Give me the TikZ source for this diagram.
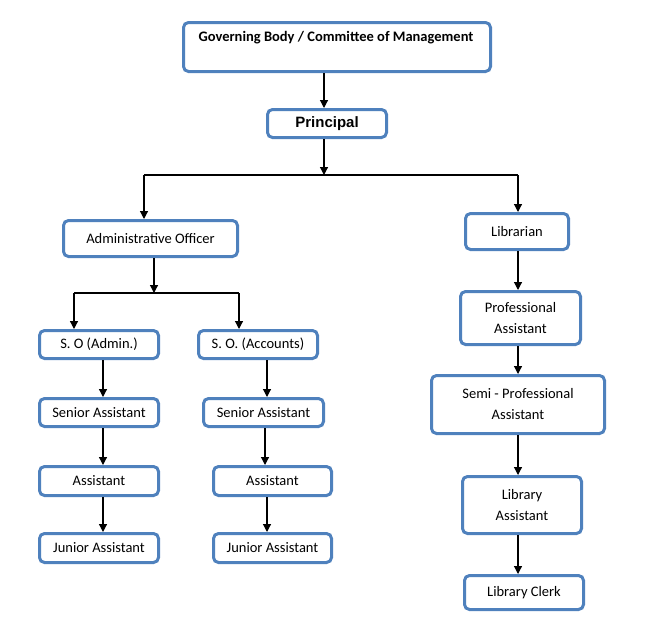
\documentclass[tikz,border=0pt]{standalone}
\usepackage{fontspec}
\setmainfont{Carlito}
\newfontfamily\arialfont{Liberation Sans}
\usetikzlibrary{arrows.meta}
\definecolor{boxblue}{HTML}{4F81BD}
\tikzset{
  orgbox/.style={draw=boxblue, line width=3pt, rounded corners=5pt, fill=white,
    inner sep=0pt, align=center, font=\fontsize{14.5pt}{21pt}\selectfont},
  conn/.style={draw=black, line width=1.2pt},
  arr/.style={conn, -{Triangle[length=8pt,width=8pt]}},
}
\begin{document}
\begin{tikzpicture}[x=1pt,y=-1pt]
\useasboundingbox (0,0) rectangle (652,621);
% boxes
\node[orgbox, minimum width=307pt, minimum height=49pt] (gb) at (337,47) {};
\node[font=\bfseries\fontsize{14.5pt}{17pt}\selectfont] (gbt) at (336,38) {Governing Body / Committee of Management};
\node[orgbox, minimum width=119pt, minimum height=28pt, font=\arialfont\bfseries\fontsize{15pt}{18pt}\selectfont] (pr) at (327,123.5) {Principal};
\node[orgbox, minimum width=174pt, minimum height=36pt] (ao) at (150.5,238.5) {Administrative Officer};
\node[orgbox, minimum width=103pt, minimum height=36pt] (lib) at (517,231.5) {Librarian};
\node[orgbox, minimum width=119pt, minimum height=28pt] (soa) at (99,344.5) {S. O (Admin.)};
\node[orgbox, minimum width=119pt, minimum height=28pt] (soc) at (258,344.5) {S. O. (Accounts)};
\node[orgbox, minimum width=119pt, minimum height=28pt] (sa1) at (99,412.5) {Senior Assistant};
\node[orgbox, minimum width=120pt, minimum height=28pt] (sa2) at (263.5,412.5) {Senior Assistant};
\node[orgbox, minimum width=119pt, minimum height=29pt] (as1) at (99,481) {Assistant};
\node[orgbox, minimum width=118pt, minimum height=29pt] (as2) at (272.5,481) {Assistant};
\node[orgbox, minimum width=119pt, minimum height=29pt] (ja1) at (99,548) {Junior Assistant};
\node[orgbox, minimum width=118pt, minimum height=29pt] (ja2) at (272.5,548) {Junior Assistant};
\node[orgbox, minimum width=120pt, minimum height=53pt] (pa) at (520.5,318) {Professional\\Assistant};
\node[orgbox, minimum width=173pt, minimum height=58pt] (spa) at (518,404.5) {Semi - Professional\\Assistant};
\node[orgbox, minimum width=119pt, minimum height=57pt] (la) at (522,505) {Library\\Assistant};
\node[orgbox, minimum width=119pt, minimum height=34pt] (lc) at (524,592.5) {Library Clerk};
% junctions and spines
\coordinate (j1) at (324,175);
\coordinate (jl) at (144,175);
\coordinate (jr) at (518,175);
\coordinate (j2) at (154,293);
\coordinate (j2l) at (74,293);
\coordinate (j2r) at (239,293);
\coordinate (xl) at (103,0);
\coordinate (xr1) at (267,0);
\coordinate (xr2) at (265,0);
\coordinate (xb) at (518,0);
% connectors
\draw[arr] (gb.south -| j1) -- (pr.north -| j1);
\draw[arr] (pr.south -| j1) -- (j1);
\draw[conn] (jl) -- (jr);
\draw[arr] (jl) -- (jl |- ao.north);
\draw[arr] (jr) -- (jr |- lib.north);
\draw[arr] (ao.south -| j2) -- (j2);
\draw[conn] (j2l) -- (j2r);
\draw[arr] (j2l) -- (j2l |- soa.north);
\draw[arr] (j2r) -- (j2r |- soc.north);
\draw[arr] (soa.south -| xl) -- (sa1.north -| xl);
\draw[arr] (sa1.south -| xl) -- (as1.north -| xl);
\draw[arr] (as1.south -| xl) -- (ja1.north -| xl);
\draw[arr] (soc.south -| xr1) -- (sa2.north -| xr1);
\draw[arr] (sa2.south -| xr2) -- (as2.north -| xr2);
\draw[arr] (as2.south -| xr1) -- (ja2.north -| xr1);
\draw[arr] (lib.south -| xb) -- (pa.north -| xb);
\draw[arr] (pa.south -| xb) -- (spa.north -| xb);
\draw[arr] (spa.south -| xb) -- (la.north -| xb);
\draw[arr] (la.south -| xb) -- (lc.north -| xb);
\end{tikzpicture}
\end{document}
